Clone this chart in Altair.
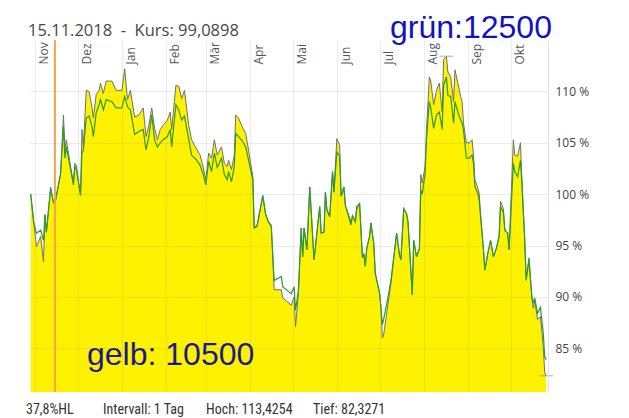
import altair as alt
import pandas as pd

dates = [
    "2018-10-29", "2018-10-31", "2018-11-02", "2018-11-05", "2018-11-07", "2018-11-08", "2018-11-09",
    "2018-11-12", "2018-11-14", "2018-11-15", "2018-11-19", "2018-11-21", "2018-11-22", "2018-11-23",
    "2018-11-26", "2018-11-28", "2018-11-29", "2018-11-30", "2018-12-03", "2018-12-04", "2018-12-05",
    "2018-12-07", "2018-12-09", "2018-12-11", "2018-12-12", "2018-12-14", "2018-12-16", "2018-12-17",
    "2018-12-19", "2018-12-21", "2018-12-25", "2018-12-28", "2019-01-01", "2019-01-03", "2019-01-05",
    "2019-01-07", "2019-01-10", "2019-01-13", "2019-01-16", "2019-01-18", "2019-01-20", "2019-01-22",
    "2019-01-24", "2019-01-26", "2019-01-28", "2019-01-30", "2019-02-02", "2019-02-04", "2019-02-05",
    "2019-02-08", "2019-02-10", "2019-02-12", "2019-02-14", "2019-02-17", "2019-02-19", "2019-02-22",
    "2019-02-25", "2019-02-27", "2019-03-01", "2019-03-03", "2019-03-05", "2019-03-07", "2019-03-09",
    "2019-03-12", "2019-03-14", "2019-03-16", "2019-03-17", "2019-03-19", "2019-03-21", "2019-03-22",
    "2019-03-24", "2019-03-27", "2019-03-29", "2019-03-31", "2019-04-03", "2019-04-04", "2019-04-06",
    "2019-04-10", "2019-04-12", "2019-04-14", "2019-04-16", "2019-04-18", "2019-04-23", "2019-04-24",
    "2019-04-30", "2019-05-02", "2019-05-03", "2019-05-05", "2019-05-07", "2019-05-08", "2019-05-09",
    "2019-05-11", "2019-05-13", "2019-05-16", "2019-05-18", "2019-05-20", "2019-05-21", "2019-05-23",
    "2019-05-24", "2019-05-25", "2019-05-27", "2019-05-29", "2019-05-30", "2019-06-01", "2019-06-03",
    "2019-06-04", "2019-06-06", "2019-06-07", "2019-06-11", "2019-06-12", "2019-06-14", "2019-06-15",
    "2019-06-17", "2019-06-19", "2019-06-20", "2019-06-21", "2019-06-22", "2019-06-24", "2019-06-25",
    "2019-06-27", "2019-06-28", "2019-07-01", "2019-07-02", "2019-07-03", "2019-07-04", "2019-07-07",
    "2019-07-09", "2019-07-13", "2019-07-15", "2019-07-16", "2019-07-18", "2019-07-20", "2019-07-21",
    "2019-07-24", "2019-07-25", "2019-07-27", "2019-07-29", "2019-07-30", "2019-07-31", "2019-08-02",
    "2019-08-03", "2019-08-05", "2019-08-06", "2019-08-08", "2019-08-10", "2019-08-12", "2019-08-14",
    "2019-08-15", "2019-08-17", "2019-08-18", "2019-08-20", "2019-08-22", "2019-08-23", "2019-08-25",
    "2019-08-27", "2019-08-28", "2019-08-29", "2019-08-31", "2019-09-02", "2019-09-04", "2019-09-05",
    "2019-09-06", "2019-09-08", "2019-09-09", "2019-09-10", "2019-09-12", "2019-09-13", "2019-09-15",
    "2019-09-17", "2019-09-19", "2019-09-21", "2019-09-23", "2019-09-24", "2019-09-26", "2019-09-27",
    "2019-09-29", "2019-09-30", "2019-10-03", "2019-10-04", "2019-10-06", "2019-10-08", "2019-10-09",
    "2019-10-11", "2019-10-12", "2019-10-14", "2019-10-16", "2019-10-17", "2019-10-18", "2019-10-20",
    "2019-10-22", "2019-10-24", "2019-10-25", "2019-10-26",
]

gelb = [
    100.0, 97.5, 94.9, 95.9, 93.4, 98.0, 96.3,
    100.7, 99.1, 99.1, 102.0, 107.7, 104.3, 105.3,
    102.7, 101.1, 103.0, 102.8, 99.9, 106.3, 104.6,
    110.1, 110.0, 108.5, 107.4, 109.7, 110.1, 110.8,
    109.8, 111.0, 111.0, 110.1, 110.1, 112.2, 109.2,
    110.1, 107.5, 107.7, 108.4, 105.6, 106.7, 108.4,
    106.4, 105.3, 106.3, 106.7, 107.2, 108.0, 106.3,
    110.6, 110.5, 109.3, 110.1, 106.7, 105.3, 104.5,
    103.8, 102.7, 101.4, 104.0, 103.5, 105.3, 103.8,
    104.6, 103.0, 102.7, 103.3, 102.4, 103.8, 107.7,
    107.4, 106.4, 105.9, 104.3, 101.7, 96.7, 96.8,
    99.9, 98.1, 97.3, 97.0, 90.7, 90.7, 89.9,
    89.2, 90.0, 87.1, 90.3, 96.7, 93.9, 96.7,
    94.6, 100.7, 93.6, 96.2, 98.8, 96.2, 96.3,
    100.2, 98.5, 97.8, 102.2, 100.2, 105.4, 104.8,
    99.8, 100.7, 98.9, 97.3, 97.9, 97.3, 98.5,
    99.1, 93.8, 94.2, 93.0, 94.7, 95.9, 97.2,
    95.1, 92.3, 90.4, 89.0, 86.0, 86.4, 89.4,
    91.3, 96.2, 94.1, 93.6, 98.6, 98.1, 97.3,
    90.2, 95.5, 93.9, 94.7, 101.9, 101.1, 102.7,
    106.3, 111.4, 111.0, 108.7, 110.1, 110.8, 108.0,
    113.1, 113.4, 111.9, 111.4, 109.0, 112.1, 110.8,
    109.5, 109.0, 106.9, 105.0, 105.0, 105.3, 103.8,
    101.4, 100.6, 100.1, 98.0, 94.6, 92.6, 94.2,
    95.5, 93.9, 94.7, 95.9, 99.3, 98.6, 96.5,
    96.2, 94.6, 105.3, 103.8, 103.7, 105.0, 101.4,
    95.5, 91.8, 93.8, 89.9, 88.9, 89.6, 87.8,
    88.1, 85.2, 82.7, 82.3,
]

gruen = [
    100.0, 97.3, 96.2, 96.5, 95.5, 98.0, 96.3,
    100.5, 99.2, 99.1, 102.0, 106.6, 103.5, 104.6,
    102.4, 100.9, 102.7, 102.4, 99.9, 104.0, 104.3,
    107.4, 107.6, 106.6, 105.6, 107.9, 108.7, 109.2,
    108.2, 109.2, 109.0, 108.4, 108.4, 109.5, 108.5,
    108.2, 105.8, 106.1, 106.3, 104.3, 105.6, 107.7,
    105.3, 104.6, 105.0, 105.3, 105.6, 106.3, 104.6,
    108.7, 108.2, 107.2, 107.6, 105.3, 103.8, 103.4,
    102.8, 102.0, 100.9, 103.2, 102.2, 104.0, 102.6,
    103.5, 101.9, 101.4, 102.2, 101.2, 102.7, 105.9,
    105.6, 105.1, 104.6, 103.3, 101.4, 96.7, 97.0,
    99.8, 98.0, 97.3, 96.8, 91.6, 92.0, 91.0,
    90.3, 91.0, 88.7, 90.6, 96.7, 93.9, 96.7,
    94.6, 100.7, 93.6, 96.2, 98.8, 96.2, 96.3,
    100.2, 98.5, 97.8, 102.2, 100.2, 104.1, 103.7,
    99.8, 100.7, 98.9, 97.0, 97.9, 97.3, 98.8,
    99.1, 93.8, 94.2, 93.0, 94.7, 95.9, 97.2,
    95.1, 92.3, 90.4, 89.0, 87.3, 87.9, 90.0,
    91.6, 96.2, 94.1, 93.6, 98.6, 98.1, 97.3,
    90.2, 95.5, 93.9, 94.7, 100.4, 100.0, 102.0,
    105.4, 109.0, 108.4, 106.4, 107.7, 108.0, 106.3,
    110.6, 111.4, 109.6, 109.5, 106.9, 109.0, 108.0,
    107.2, 106.9, 106.2, 103.5, 103.5, 103.8, 103.0,
    100.7, 100.1, 99.4, 97.8, 94.6, 92.6, 94.2,
    95.5, 93.9, 94.7, 95.9, 98.8, 98.2, 96.5,
    96.2, 94.6, 103.0, 102.2, 101.7, 103.3, 101.1,
    95.5, 91.6, 93.6, 90.0, 89.4, 89.9, 88.4,
    89.0, 86.5, 84.2, 83.9,
]

monate = ["Jan", "Feb", "Mär", "Apr", "Mai", "Jun", "Jul", "Aug", "Sep", "Okt", "Nov", "Dez"]
y_ticks = [85, 90, 95, 100, 105, 110]
marker_date = ["2018-11-15"]
extrem_dates = ["2019-08-17", "2019-10-26"]
extrem_values = [113.4254, 82.3271]

titel = "15.11.2018\u00a0\u00a0-\u00a0\u00a0Kurs: 99,0898"
gruen_label = "grün:12500"
gelb_label = "gelb: 10500"
fuss_labels = ["37,8%HL", "Intervall: 1 Tag", "Hoch: 113,4254", "Tief: 82,3271"]

df = pd.DataFrame({"date": dates, "gelb": gelb, "gruen": gruen})

W, H = 518, 352
GRID = "#8a8a8a"
FONT = "Open Sans"

x_scale = alt.Scale(domain=[alt.DateTime(year=2018, month=10, date=28, hours=12),
                            alt.DateTime(year=2019, month=10, date=27, hours=8)])
y_scale = alt.Scale(domain=[80.75, 115], nice=False, zero=False)

month_expr = "[" + ",".join("'" + m + "'" for m in monate) + "][month(datum.value)]"

x_axis = alt.Axis(orient="top", title=None, grid=True, gridColor=GRID, gridOpacity=0.16,
                  tickCount={"interval": "month", "step": 1}, labelExpr=month_expr,
                  labelAngle=270, labelAlign="left", labelBaseline="middle", labelOffset=9,
                  labelPadding=-24, ticks=False, tickSize=0, domain=False, labelFlush=False,
                  labelOverlap=False, labelBound=False, labelFont=FONT, labelFontSize=12,
                  labelColor="#555555", zindex=1)
y_axis = alt.Axis(orient="right", title=None, values=y_ticks, labelExpr="datum.value + ' %'",
                  grid=True, gridColor=GRID, gridOpacity=0.16, ticks=False, tickSize=0,
                  domainColor="#e2e2e2", labelPadding=7, labelFont=FONT, labelFontSize=12,
                  labelColor="#444444", zindex=1)

X = alt.X("date:T", scale=x_scale, axis=x_axis)

area = alt.Chart(df).mark_area(color="#fff200", clip=True).encode(
    x=X, y=alt.Y("gelb:Q", scale=y_scale, axis=y_axis))
line_gelb = alt.Chart(df).mark_line(color="#707070", strokeWidth=1, clip=True).encode(
    x=X, y=alt.Y("gelb:Q", scale=y_scale, axis=y_axis))
line_gruen = alt.Chart(df).mark_line(color="#2f9a2f", strokeWidth=1.2, clip=True).encode(
    x=X, y=alt.Y("gruen:Q", scale=y_scale, axis=y_axis))

rule = alt.Chart(pd.DataFrame({"date": marker_date})).mark_rule(
    color="#f6a44c", strokeWidth=2).encode(x=X)

extrem = alt.Chart(pd.DataFrame({"date": extrem_dates, "v": extrem_values})).mark_tick(
    orient="horizontal", size=14, thickness=1, color="#8a8a8a").encode(
    x=X, y=alt.Y("v:Q", scale=y_scale, axis=y_axis))


def label(text, x, y, size, color, font, weight="normal"):
    return alt.Chart(pd.DataFrame({"t": [text]})).mark_text(
        align="left", baseline="alphabetic", fontSize=size, color=color, font=font,
        fontWeight=weight).encode(x=alt.value(x), y=alt.value(y), text="t:N")


texts = [
    label(titel, -2, -4, 16.5, "#474747", FONT),
    label(gruen_label, 360, -2, 32, "#1212c4", "Liberation Sans"),
    label(gelb_label, 57, 325, 32, "#1a1a8a", "Liberation Sans"),
]
fuss_x = [-4, 73, 176, 283]
for t, fx in zip(fuss_labels, fuss_x):
    texts.append(label(t, fx, 374, 14, "#333333", "Liberation Sans Narrow, Roboto Condensed, Liberation Sans"))

chart = alt.layer(area, line_gelb, line_gruen, rule, extrem, *texts).properties(
    width=W, height=H,
    autosize=alt.AutoSizeParams(type="none"),
    padding={"left": 22, "top": 32, "right": 70, "bottom": 26},
).configure_view(stroke=None)

chart.save("out.html", embed_options={"renderer": "svg", "actions": False})
